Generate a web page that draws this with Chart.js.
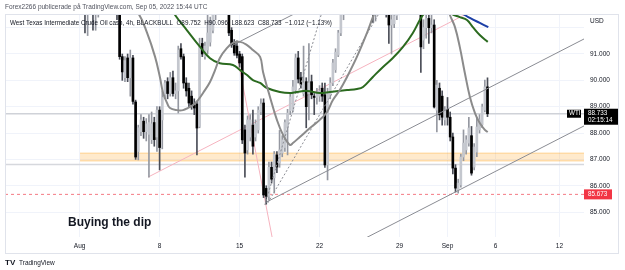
<!DOCTYPE html>
<html>
<head>
<meta charset="utf-8">
<script src="https://cdn.jsdelivr.net/npm/chart.js@4.4.0/dist/chart.umd.min.js"></script>
<style>
  html, body { margin: 0; padding: 0; background: #fff; }
  canvas { display: block; }
</style>
</head>
<body>
<canvas id="wtiChart" width="625" height="270"></canvas>
<script>
// 4h candles, one row per trading day (Aug 1 .. Sep 5)
const openV = [
  93.8, 93.4, 92.9, 92.6, 92.8, 93.3,
  92.9, 93.2, 93.7, 94.2, 94.5, 94.0,
  93.6, 93.3, 92.8, 92.6, 90.9, 90.1,
  90.85, 90.1, 90.85, 89.18, 87.3, 88.05,
  88.45, 88.05, 87.95, 87.75, 88.4, 87.85,
  88.87, 88.5, 89.45, 89.95, 89.5, 90.1,
  89.5, 89.6, 91.2, 90.9, 89.9, 89.7,
  89.4, 89.06, 89.1, 88.25, 91.4, 90.9,
  91.15, 91.45, 91.9, 92.5, 93.2, 93.8,
  93.5, 93.0, 92.8, 91.9, 91.42, 91.3,
  91.0, 90.9, 88.12, 87.36, 87.85, 88.3,
  87.85, 88.12, 88.8, 89.14, 85.9, 85.6,
  86.7, 86.3, 87.17, 86.86, 87.24, 87.45,
  88.2, 88.85, 88.87, 89.63, 90.85, 90.1,
  89.5, 89.95, 89.5, 89.95, 89.4, 89.35,
  89.4, 89.7, 89.45, 86.79, 89.44, 89.9,
  90.4, 90.96, 91.8, 92.5, 93.1, 93.6,
  93.9, 94.3, 94.0, 94.6, 95.0, 94.7,
  94.9, 94.2, 93.4, 92.8, 93.0, 92.7,
  92.9, 93.1, 92.55, 92.1, 92.15, 92.45,
  93.3, 94.2, 95.1, 96.0, 96.6, 96.9,
  96.6, 95.0, 93.2, 91.53, 92.0, 92.35,
  92.0, 92.1, 88.87, 89.7, 89.4, 88.5,
  88.9, 88.6, 87.85, 86.67, 85.84, 86.03,
  87.09, 87.36, 87.62, 87.9, 86.71, 87.28,
  88.12, 88.31, 88.87, 89.752
];
const highV = [
  94.2, 93.6, 93.1, 93.0, 93.5, 93.6,
  93.4, 93.9, 94.5, 94.8, 94.9, 94.3,
  94.0, 93.6, 93.1, 92.8, 91.0, 90.9,
  91.0, 91.15, 90.95, 89.25, 88.3, 88.7,
  88.6, 88.55, 88.7, 88.8, 88.6, 89.0,
  89.0, 89.6, 90.0, 90.1, 90.3, 90.35,
  89.9, 91.3, 91.4, 91.0, 90.1, 89.9,
  89.6, 89.3, 89.2, 91.6, 91.6, 91.45,
  92.55, 92.4, 92.9, 93.6, 94.1, 94.0,
  93.8, 93.4, 92.9, 92.0, 91.55, 91.5,
  91.1, 91.0, 88.3, 88.65, 88.7, 88.87,
  88.5, 89.0, 89.3, 89.3, 86.0, 86.9,
  86.9, 87.3, 87.3, 88.1, 87.9, 88.5,
  88.9, 89.5, 90.0, 91.0, 91.1, 90.3,
  91.3, 90.1, 91.4, 90.2, 89.5, 89.7,
  89.8, 89.9, 89.9, 89.7, 90.1, 90.8,
  91.2, 91.9, 92.8, 93.4, 94.0, 94.2,
  94.6, 94.7, 94.9, 95.3, 95.4, 95.2,
  95.1, 94.4, 93.6, 93.4, 93.3, 93.1,
  93.4, 93.3, 92.7, 92.5, 92.7, 93.5,
  94.5, 95.4, 96.4, 97.1, 97.3, 97.2,
  96.8, 95.2, 93.4, 92.3, 92.7, 92.5,
  92.5, 92.3, 90.0, 89.9, 89.6, 89.0,
  89.35, 88.8, 88.0, 86.8, 86.25, 87.2,
  88.12, 87.9, 88.6, 88.25, 87.6, 88.6,
  88.7, 89.1, 90.01, 90.096
];
const lowV = [
  93.2, 92.7, 91.8, 91.7, 92.6, 91.9,
  91.9, 92.4, 93.4, 93.9, 93.8, 93.2,
  93.0, 92.6, 92.3, 90.8, 90.0, 89.95,
  89.95, 89.4, 89.1, 87.0, 86.98, 87.9,
  87.8, 87.7, 86.33, 87.6, 87.5, 87.3,
  86.6, 87.4, 89.3, 89.3, 89.4, 89.4,
  89.3, 88.76, 90.8, 89.7, 89.4, 89.0,
  88.9, 88.7, 87.17, 88.2, 90.9, 90.8,
  91.0, 91.3, 91.8, 92.3, 93.0, 93.1,
  92.8, 92.5, 91.7, 91.25, 90.95, 90.85,
  90.5, 87.6, 86.33, 87.2, 87.7, 87.2,
  87.7, 88.0, 88.7, 85.55, 85.3, 85.45,
  86.1, 85.72, 86.5, 86.7, 87.1, 87.3,
  87.17, 88.7, 88.8, 89.5, 89.9, 89.7,
  89.4, 88.2, 88.5, 89.3, 88.7, 89.1,
  89.2, 89.2, 86.7, 86.22, 89.3, 89.8,
  90.3, 90.9, 91.7, 92.3, 92.9, 93.3,
  93.6, 93.7, 93.8, 94.4, 94.5, 94.4,
  93.9, 93.0, 92.2, 92.25, 92.5, 92.6,
  92.7, 92.4, 91.4, 91.0, 92.0, 92.3,
  93.1, 94.0, 94.9, 95.8, 96.3, 96.2,
  94.8, 92.9, 90.3, 91.2, 91.6, 91.4,
  91.8, 88.95, 88.04, 88.5, 88.3, 88.3,
  88.3, 87.7, 86.45, 85.76, 85.72, 85.95,
  86.95, 87.2, 87.5, 86.4, 86.6, 87.1,
  88.0, 88.2, 88.8, 88.623
];
const closeV = [
  93.4, 92.9, 92.6, 92.8, 93.3, 92.9,
  93.2, 93.7, 94.2, 94.5, 94.0, 93.6,
  93.3, 92.8, 92.6, 90.9, 90.32, 90.75,
  90.1, 90.85, 89.2, 87.09, 88.2, 88.5,
  88.05, 88.35, 88.4, 88.35, 87.75, 88.87,
  87.45, 89.35, 89.9, 89.5, 90.1, 89.5,
  89.6, 91.15, 90.89, 89.9, 89.6, 89.14,
  89.06, 88.95, 88.19, 91.3, 91.0, 91.3,
  91.8, 92.1, 92.5, 93.2, 93.8, 93.5,
  93.0, 92.8, 91.8, 91.35, 91.04, 90.95,
  90.66, 87.74, 87.24, 88.5, 88.5, 87.5,
  88.35, 88.87, 89.1, 85.65, 85.6, 86.7,
  86.25, 87.2, 86.71, 87.36, 87.74, 88.4,
  88.76, 89.37, 89.75, 90.85, 90.05, 89.85,
  89.9, 89.0, 89.9, 89.45, 89.35, 89.5,
  89.6, 89.4, 86.79, 89.5, 89.9, 90.66,
  91.07, 91.8, 92.56, 93.1, 93.6, 93.9,
  94.3, 94.0, 94.6, 95.0, 94.7, 94.9,
  94.2, 93.4, 92.8, 93.0, 92.7, 92.9,
  93.1, 92.6, 92.1, 92.3, 92.45, 93.2,
  94.2, 95.1, 96.0, 96.6, 96.9, 96.6,
  95.0, 93.2, 91.27, 92.0, 92.35, 92.0,
  92.1, 88.99, 89.82, 88.69, 88.6, 88.87,
  88.6, 87.85, 86.67, 85.91, 86.1, 87.09,
  87.62, 87.74, 88.19, 86.48, 87.47, 88.23,
  88.5, 88.99, 89.75, 88.733
];

// moving averages (candle index, price)
const grayIdx = [18.1, 21.9, 25.3, 28.3, 30.1, 31.3, 32.8, 33.9, 36.5, 38.8, 40.6, 42.5, 44.4, 46.3, 48.9, 50.8, 52.6, 55.3, 57.5, 60.2, 62.8, 65.0, 67.7, 68.8, 71.4, 74.0, 76.3, 78.9, 80.0, 82.6, 86.4, 90.1, 92.8, 95.0, 97.6, 100.3, 104.0, 107.8, 110.0, 111.9, 120.2, 125.8, 135.1, 138.9, 140.8, 142.6, 144.5, 146.4, 148.3, 150.1, 152.0, 153.1];
const grayVal = [92.86, 92.56, 91.80, 90.89, 90.13, 89.52, 89.14, 88.95, 88.87, 88.87, 88.95, 89.06, 89.25, 89.52, 89.94, 90.39, 90.85, 91.23, 91.42, 91.46, 91.34, 91.15, 90.89, 90.32, 89.37, 88.50, 87.93, 87.55, 87.62, 87.85, 88.19, 88.50, 88.80, 89.25, 89.63, 90.13, 90.89, 91.80, 92.40, 92.86, 94.57, 94.38, 93.62, 92.48, 92.02, 91.27, 90.28, 89.37, 88.76, 88.38, 88.12, 88.04];
const greenIdx = [33.2, 35.8, 40.2, 45.1, 48.9, 52.6, 57.5, 60.2, 62.8, 65.0, 67.7, 70.3, 75.1, 78.9, 81.5, 85.3, 90.1, 93.9, 100.3, 104.0, 106.3, 110.0, 113.8, 117.5, 121.3, 125.0, 127.6, 129.1, 134.0, 139.6, 142.6, 145.3, 147.5, 150.1, 153.1];
const greenVal = [92.97, 92.48, 91.91, 91.28, 90.84, 90.65, 90.58, 90.39, 90.20, 90.01, 89.90, 89.71, 89.56, 89.52, 89.56, 89.60, 89.52, 89.56, 89.63, 89.67, 89.75, 90.13, 90.51, 90.85, 91.27, 91.80, 92.29, 92.52, 92.97, 92.52, 92.40, 92.29, 92.02, 91.72, 91.46];
const blueIdx = [140.8, 143.8, 146.4, 150.1, 153.3];
const blueVal = [92.74, 92.52, 92.37, 92.18, 92.02];

// drawings (two points each)
const chanAX = [69.5, 189.2], chanAY = [85.35, 91.57];
const chanBX = [101.4, 189.2], chanBY = [83.71, 88.27];
const chanCX = [57.5, 82.6], chanCY = [91.34, 92.63];
const pinkAX = [25.7, 146.4], pinkAY = [86.33, 92.59];
const pinkBX = [59.4, 72.2], pinkBY = [90.77, 84.05];
const dotAX = [69.5, 90.9], dotAY = [85.27, 92.59];
const dotBX = [70.6, 112.6], dotBY = [85.35, 92.59];

const zoneTop = 87.24, zoneBottom = 86.94, zoneStart = 0.15;
const lastPrice = 88.733;
const levelLine = 86.81;
const lowMark = 85.673;

const tickIdx = [0, 30, 60, 90, 120, 138, 156, 180];
const tickText = ['Aug', '8', '15', '22', '29', 'Sep', '6', '12'];
const priceTicks = [85, 86, 87, 88, 89, 90, 91, 92];

const xMin = -28, xMax = 189.2;
const yMin = 84.055, yMax = 92.518;

const fontFam = "'Liberation Sans', Arial, sans-serif";
Chart.defaults.font.family = fontFam;

let idxList = openV.map((v, i) => i);
let isUp = idxList.map(i => closeV[i] >= openV[i]);

function seg(xs, ys) {
  return xs.map((x, i) => ({ x: x, y: ys[i] }));
}
function flat(v, from) {
  return [{ x: from, y: v }, { x: xMax, y: v }];
}
function lineSet(data, color, width, extra) {
  return Object.assign({
    type: 'line', data: data, borderColor: color, borderWidth: width,
    pointRadius: 0, fill: false, tension: 0, clip: 0
  }, extra || {});
}

let overlayPlugin = {
  id: 'overlay',
  afterDraw(chart) {
    const ctx = chart.ctx;
    const ys = chart.scales.y;
    ctx.save();

    // frame
    ctx.strokeStyle = '#e0e3eb';
    ctx.lineWidth = 1;
    ctx.strokeRect(5.5, 14.5, 613, 239);

    ctx.textBaseline = 'middle';
    ctx.textAlign = 'left';
    ctx.fillStyle = '#50535e';
    ctx.font = '6.5px ' + fontFam;
    ctx.fillText('Forex2266 publicerade på TradingView.com, Sep 05, 2022 15:44 UTC', 5, 7);

    ctx.fillStyle = '#131722';
    ctx.font = '6.3px ' + fontFam;
    ctx.fillText('West Texas Intermediate Crude Oil cash, 4h, BLACKBULL  O89.752  H90.096  L88.623  C88.733  \u22121.012 (\u22121.13%)', 10, 23);

    ctx.font = '6.5px ' + fontFam;
    ctx.fillText('USD', 590, 21);

    ctx.font = 'bold 12px ' + fontFam;
    ctx.fillText('Buying the dip', 68, 223);

    // price labels on the scale
    let py = ys.getPixelForValue(lastPrice);
    ctx.fillStyle = '#000';
    ctx.fillRect(567, py - 4, 14, 8);
    ctx.fillRect(584, py - 5, 34, 16);
    ctx.fillStyle = '#fff';
    ctx.font = '6.3px ' + fontFam;
    ctx.fillText('WTI', 569, py);
    ctx.fillText(lastPrice.toFixed(3), 588, py - 0.5);
    ctx.fillText('02:15:14', 588, py + 6.5);

    let ry = ys.getPixelForValue(lowMark);
    ctx.fillStyle = '#f23645';
    ctx.fillRect(584, ry - 5, 28, 10);
    ctx.fillStyle = '#fff';
    ctx.fillText(lowMark.toFixed(3), 588, ry);

    // footer logo
    ctx.fillStyle = '#131722';
    ctx.font = 'bold 8px ' + fontFam;
    ctx.fillText('TV', 5, 263);
    ctx.font = '6.5px ' + fontFam;
    ctx.fillText('TradingView', 19, 263);
    ctx.restore();
  }
};

let wtiChart = new Chart(document.getElementById('wtiChart'), {
  type: 'bar',
  data: {
    datasets: [
      // demand zone
      lineSet(flat(zoneTop, zoneStart), 'rgba(255,152,0,0.35)', 1, { fill: '+1', backgroundColor: 'rgba(255,152,0,0.2)', order: 20 }),
      lineSet(flat(zoneBottom, zoneStart), 'rgba(255,152,0,0.35)', 1, { order: 20 }),
      // horizontal levels
      lineSet(flat(lastPrice, xMin), '#cfd2d8', 1.5, { order: 19 }),
      lineSet(flat(levelLine, xMin), '#d6d8dd', 1.5, { order: 19 }),
      lineSet(flat(lowMark, xMin), '#f47a84', 1, { borderDash: [3, 3], order: 19 }),
      // trend lines
      lineSet(seg(chanAX, chanAY), '#8a8c93', 1, { order: 3 }),
      lineSet(seg(chanBX, chanBY), '#8a8c93', 1, { order: 3 }),
      lineSet(seg(chanCX, chanCY), '#8a8c93', 1, { order: 3 }),
      lineSet(seg(pinkAX, pinkAY), '#f6b3bf', 1, { order: 18 }),
      lineSet(seg(pinkBX, pinkBY), '#f6b3bf', 1, { order: 18 }),
      lineSet(seg(dotAX, dotAY), '#8a8c93', 1, { borderDash: [2, 2], order: 3 }),
      lineSet(seg(dotBX, dotBY), '#8a8c93', 1, { borderDash: [2, 2], order: 3 }),
      // candles
      {
        type: 'bar',
        data: idxList.map(i => ({ x: i, y: [lowV[i], highV[i]] })),
        backgroundColor: idxList.map(i => isUp[i] ? '#9598a1' : '#4a4d57'),
        barThickness: 1, grouped: false, order: 6, clip: 0
      },
      {
        type: 'bar',
        data: idxList.map(i => ({ x: i, y: [openV[i], closeV[i]] })),
        backgroundColor: idxList.map(i => isUp[i] ? '#c4c7ce' : '#000000'),
        barThickness: 2, grouped: false, order: 5, clip: 0
      },
      // moving averages
      lineSet(seg(grayIdx, grayVal), '#8b8b8b', 2, { tension: 0.4, order: 2 }),
      lineSet(seg(greenIdx, greenVal), '#2b6a1f', 2, { tension: 0.4, order: 2 }),
      lineSet(seg(blueIdx, blueVal), '#1c3fa6', 2, { tension: 0.4, order: 2 })
    ]
  },
  options: {
    responsive: false,
    animation: false,
    devicePixelRatio: 1,
    layout: { padding: { left: 5, top: 14, right: 6, bottom: 16 } },
    plugins: {
      legend: { display: false },
      tooltip: { enabled: false }
    },
    scales: {
      x: {
        type: 'linear',
        min: xMin,
        max: xMax,
        offset: false,
        afterFit: (s) => { s.height = 17; },
        afterBuildTicks: (s) => { s.ticks = tickIdx.map(v => ({ value: v })); },
        ticks: {
          autoSkip: false, maxRotation: 0, padding: 5, color: '#131722',
          font: { size: 6.5 },
          callback: (v) => tickText[tickIdx.indexOf(v)]
        },
        grid: { color: '#f0f3fa', drawTicks: false, offset: false },
        border: { display: false }
      },
      y: {
        type: 'linear',
        position: 'right',
        min: yMin,
        max: yMax,
        afterFit: (s) => { s.width = 35; },
        afterBuildTicks: (s) => { s.ticks = priceTicks.map(v => ({ value: v })); },
        ticks: {
          padding: 6, color: '#131722',
          font: { size: 6.5 },
          callback: (v) => v >= 92 ? '' : v.toFixed(3)
        },
        grid: { color: '#f0f3fa', drawTicks: false },
        border: { display: false }
      }
    }
  },
  plugins: [overlayPlugin]
});
</script>
</body>
</html>
